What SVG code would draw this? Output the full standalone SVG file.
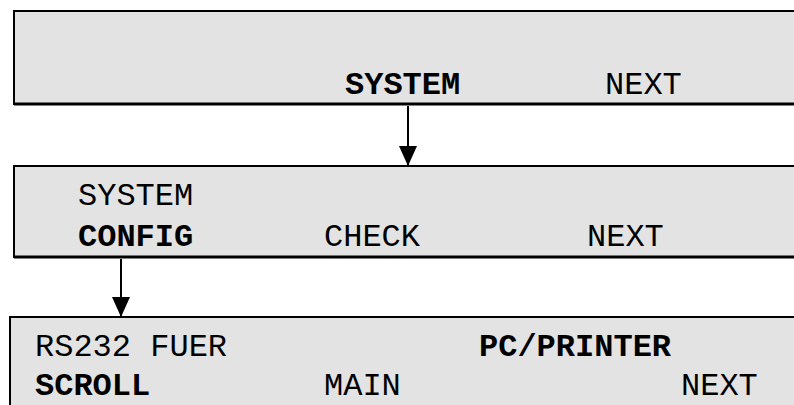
<svg xmlns="http://www.w3.org/2000/svg" width="794" height="405" viewBox="0 0 794 405">
<style>
.box{fill:#e3e3e3;stroke:#000;stroke-width:2}
.sh{stroke:#000;stroke-width:3;fill:none}
.t{font-family:"Liberation Mono","Courier New",monospace;font-size:32px;fill:#000}
.b{font-weight:bold}
.conn{stroke:#000;stroke-width:2;fill:none}
</style>
<defs>
<marker id="ah" markerWidth="20" markerHeight="18" refX="20" refY="9" orient="auto" markerUnits="userSpaceOnUse">
<path d="M0,0 L20,9 L0,18 Z" fill="#000"/>
</marker>
</defs>
<g id="node1">
<rect class="box" x="14" y="11" width="800" height="93"/>
<line class="sh" x1="14" y1="104" x2="800" y2="104"/>
<text class="t b" x="345" y="94">SYSTEM</text>
<text class="t" x="605" y="94">NEXT</text>
</g>
<g id="node2">
<rect class="box" x="14" y="166" width="800" height="91"/>
<line class="sh" x1="14" y1="257" x2="800" y2="257"/>
<text class="t" x="78" y="205">SYSTEM</text>
<text class="t b" x="78" y="246">CONFIG</text>
<text class="t" x="324" y="246">CHECK</text>
<text class="t" x="587" y="246">NEXT</text>
</g>
<g id="node3">
<rect class="box" x="10" y="317" width="800" height="100"/>
<text class="t" x="35" y="356">RS232 FUER</text>
<text class="t b" x="479" y="356">PC/PRINTER</text>
<text class="t b" x="35" y="395">SCROLL</text>
<text class="t" x="324" y="395">MAIN</text>
<text class="t" x="681" y="395">NEXT</text>
</g>
<g id="connectors">
<line class="conn" x1="408" y1="106" x2="408" y2="166" marker-end="url(#ah)"/>
<line class="conn" x1="121" y1="259" x2="121" y2="317" marker-end="url(#ah)"/>
</g>
</svg>
